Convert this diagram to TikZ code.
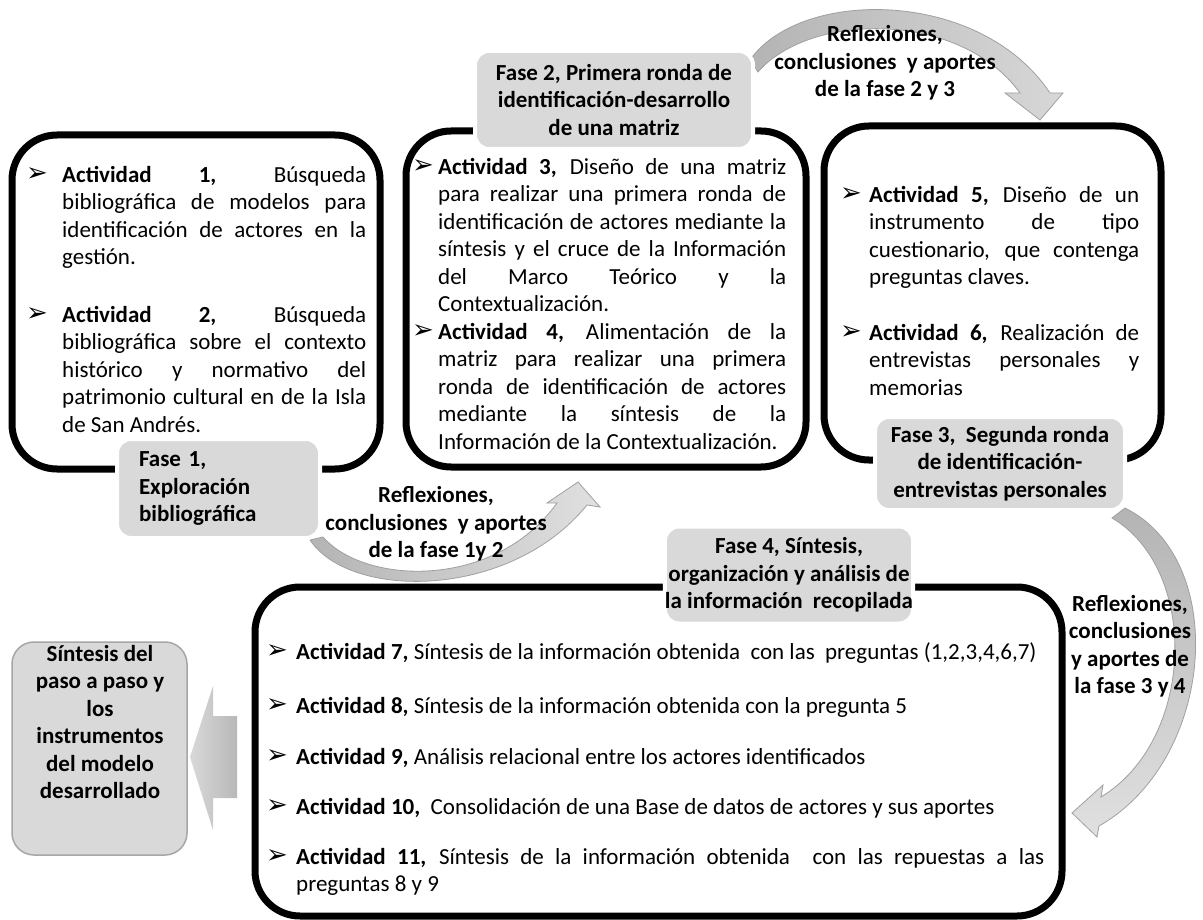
\documentclass[tikz,border=0pt]{standalone}
\usepackage{fontspec}
\setmainfont{Carlito}
\newfontfamily\dejavu{DejaVu Sans}
\definecolor{lblgray}{HTML}{D9D9D9}
\definecolor{outl}{HTML}{A6A6A6}
\definecolor{arrdark}{HTML}{A0A0A0}
\definecolor{arrmid}{HTML}{B4B4B4}
\definecolor{arrlight}{HTML}{E0E0E0}
\newcommand\fs{\fontsize{23}{27.5}\selectfont\hyphenpenalty=10000\exhyphenpenalty=10000}
\begin{document}
\begin{tikzpicture}[x=1pt,y=-1pt,
  every node/.style={inner sep=0pt},
  actbox/.style={draw=black, line width=7pt, rounded corners=45pt, inner sep=0pt},
  phase/.style={fill=lblgray, draw=white, line width=4pt, rounded corners=14pt, font=\fs\bfseries, align=center},
  para/.style={font=\fs, align=justify, anchor=north west},
  bul/.style={font=\dejavu\fontsize{26}{26}\selectfont},
  reflabel/.style={font=\fs\bfseries, align=center},
  curvearrow/.style={draw=arrdark, line width=0.8pt}
]
\useasboundingbox (0,0) rectangle (1203,920);
\fill[white] (0,0) rectangle (1203,920);

% activity boxes
\node[actbox, minimum width=368pt, minimum height=334pt] (box1) at (196,302) {};
\node[actbox, minimum width=400pt, minimum height=336pt] (box2) at (606,299) {};
\node[actbox, minimum width=337pt, minimum height=334pt] (box3) at (992.5,293) {};
\node[actbox, minimum width=807pt, minimum height=329pt] (box4) at (658.5,751.5) {};

% curved arrows
\shadedraw[curvearrow, left color=arrmid, right color=arrlight]
  (310,540) .. controls (350,600) and (510,600) .. (587,505)
  -- (600,507) -- (578,482) -- (547,503) -- (557,503)
  .. controls (495,590) and (365,585) .. (323,537) -- cycle;
\shadedraw[curvearrow, left color=arrmid, right color=arrlight!80!arrmid]
  (750,60) .. controls (800,-12) and (980,-12) .. (1050,93)
  -- (1063,93) -- (1040,120) -- (1005,93) -- (1020,93)
  .. controls (960,10) and (810,12) .. (758,72) -- cycle;
\shadedraw[curvearrow, top color=arrmid, bottom color=arrlight]
  (1125,508) .. controls (1230,560) and (1215,760) .. (1099,826)
  -- (1097,837) -- (1072,813) -- (1103,785) -- (1101,797)
  .. controls (1195,740) and (1200,570) .. (1112,518) -- cycle;

% phase labels
\node[phase, minimum width=203pt, minimum height=99pt, text width=159pt, align=left] (f1) at (218.5,488.5) {Fase 1,\\Exploración\\bibliográfica};
\node[phase, minimum width=278pt, minimum height=98pt] (f2) at (614,100) {Fase 2, Primera ronda de\\identificación-desarrollo\\de una matriz};
\node[phase, minimum width=250pt, minimum height=93pt] (f3) at (1000,463.5) {Fase 3,\ \ Segunda ronda\\de identificación-\\entrevistas personales};
\node[phase, minimum width=248pt, minimum height=97pt] (f4) at (789,575) {Fase 4, Síntesis,\\organización y análisis de\\la información\ \ recopilada};

% output box and big arrow
\node[fill=lblgray, draw=outl, line width=1.5pt, rounded corners=22pt, minimum width=175pt, minimum height=213pt] (out) at (99.5,748.5) {};
\node[font=\fs\bfseries, align=center] (outtxt) at (100,722) {Síntesis del\\paso a paso y\\los\\instrumentos\\del modelo\\desarrollado};
\shade[left color=lblgray, right color=outl!80]
  (190,757) -- (213,686) -- (213,716) -- (237,716) -- (237,798) -- (213,798) -- (213,830) -- cycle;

% arrow labels
\node[reflabel] (r12) at (436,524) {Reflexiones,\\conclusiones\ \ y aportes\\de la fase 1y 2};
\node[reflabel] (r23) at (885,63) {Reflexiones,\\conclusiones\ \ y aportes\\de la fase 2 y 3};
\node[reflabel] (r34) at (1130,646) {Reflexiones,\\conclusiones\\y aportes de\\la fase 3 y 4};

% box 1 texts
\node[bul] (u1) at (37,175) {➢};
\node[para, text width=304pt] (a1) at (62,163) {\strut\textbf{Actividad 1,} Búsqueda\linebreak bibliográfica de modelos para\linebreak identificación de actores en la\linebreak gestión.};
\node[bul] (u2) at (37,315) {➢};
\node[para, text width=304pt] (a2) at (62,303) {\strut\textbf{Actividad 2,} Búsqueda\linebreak bibliográfica sobre el contexto\linebreak histórico y normativo del\linebreak patrimonio cultural en de la Isla\linebreak de San Andrés.};

% box 2 texts
\node[bul] (u3) at (423,167) {➢};
\node[para, text width=348pt] (a3) at (438,155) {\strut\textbf{Actividad 3,} Diseño de una matriz\linebreak para realizar una primera ronda de\linebreak identificación de actores mediante la\linebreak síntesis y el cruce de la Información\linebreak del Marco Teórico y la\linebreak Contextualización.};
\node[bul] (u4) at (423,332) {➢};
\node[para, text width=348pt] (a4) at (438,320) {\strut\textbf{Actividad 4,} Alimentación de la\linebreak matriz para realizar una primera\linebreak ronda de identificación de actores\linebreak mediante la síntesis de la\linebreak Información de la Contextualización.};

% box 3 texts
\node[bul] (u5) at (851,195) {➢};
\node[para, text width=270pt] (a5) at (869,183) {\strut\textbf{Actividad 5,} Diseño de un\linebreak instrumento de tipo\linebreak cuestionario, que contenga\linebreak preguntas claves.};
\node[bul] (u6) at (851,333) {➢};
\node[para, text width=270pt] (a6) at (869,321) {\strut\textbf{Actividad 6,} Realización de\linebreak entrevistas personales y\linebreak memorias};

% box 4 texts
\node[bul] (u7) at (277,652) {➢};
\node[para, text width=748pt] (a7) at (296,640) {\strut\textbf{Actividad 7,} Síntesis de la información obtenida\ \ con las\ \ preguntas (1,2,3,4,6,7)};
\node[bul] (u8) at (277,706) {➢};
\node[para, text width=748pt] (a8) at (296,694) {\strut\textbf{Actividad 8,} Síntesis de la información obtenida con la pregunta 5};
\node[bul] (u9) at (277,757) {➢};
\node[para, text width=748pt] (a9) at (296,745) {\strut\textbf{Actividad 9,} Análisis relacional entre los actores identificados};
\node[bul] (u10) at (277,807) {➢};
\node[para, text width=748pt] (a10) at (296,795) {\strut\textbf{Actividad 10,}\ \ Consolidación de una Base de datos de actores y sus aportes};
\node[bul] (u11) at (277,857) {➢};
\node[para, text width=748pt] (a11) at (296,845) {\strut\textbf{Actividad 11,} Síntesis de la información obtenida\ \ con las repuestas a las\linebreak preguntas 8 y 9};
\end{tikzpicture}
\end{document}
